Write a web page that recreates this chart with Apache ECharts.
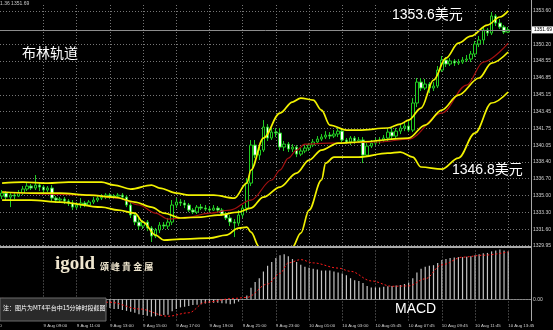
<!DOCTYPE html>
<html><head><meta charset="utf-8">
<script src="https://cdn.jsdelivr.net/npm/echarts/dist/echarts.min.js"></script>
<style>html,body{margin:0;padding:0;background:#000;overflow:hidden}#c{width:553px;height:330px}</style>
</head><body><div id="c"></div>
<script>
// ---- data ----
// candles: [open, close, low, high], 15-minute bars
const candles = [
[1334.94,1335.24,1334.64,1335.55],[1335.24,1334.84,1334.54,1335.45],[1334.84,1335.04,1333.83,1335.24],[1335.04,1334.94,1334.64,1335.35],
[1334.94,1335.24,1334.84,1335.55],[1335.24,1335.65,1335.04,1335.95],[1335.65,1335.95,1335.45,1336.25],[1335.95,1335.75,1335.55,1336.15],
[1335.75,1336.05,1335.55,1337.06],[1336.05,1335.85,1335.45,1336.25],[1335.85,1335.55,1335.24,1336.05],[1335.55,1335.75,1335.35,1335.95],
[1335.75,1334.74,1334.34,1336.05],[1334.74,1334.54,1334.24,1334.94],[1334.54,1334.64,1334.34,1334.84],[1334.64,1334.44,1334.14,1334.84],
[1334.44,1334.24,1333.94,1334.64],[1334.24,1333.83,1333.53,1334.54],[1333.83,1334.04,1333.63,1334.34],[1334.04,1334.24,1333.73,1334.74],
[1334.24,1334.04,1333.83,1334.44],[1334.04,1334.34,1333.94,1334.54],[1334.34,1334.54,1334.14,1334.84],[1334.54,1334.74,1334.34,1335.04],
[1334.74,1334.84,1334.54,1335.14],[1334.84,1335.04,1334.64,1335.24],[1335.04,1334.84,1334.64,1335.24],[1334.84,1334.94,1334.64,1335.14],
[1334.94,1335.04,1334.74,1335.24],[1335.04,1334.84,1334.54,1335.24],[1334.84,1334.04,1333.83,1335.04],[1334.04,1333.03,1332.73,1334.24],
[1333.03,1332.32,1332.02,1333.23],[1332.32,1331.92,1331.52,1332.73],[1331.92,1332.32,1331.62,1332.53],[1332.32,1331.72,1331.41,1332.53],
[1331.72,1330.91,1330.31,1331.92],[1330.91,1331.52,1330.71,1331.72],[1331.52,1332.02,1331.21,1332.32],[1332.02,1331.92,1331.62,1332.32],
[1331.92,1332.32,1331.62,1332.73],[1332.32,1334.04,1332.02,1334.54],[1334.04,1334.34,1333.73,1334.74],[1334.34,1334.24,1333.94,1334.64],
[1334.24,1334.04,1333.73,1334.54],[1334.04,1333.53,1333.33,1334.24],[1333.53,1333.33,1333.13,1333.73],[1333.33,1333.83,1333.13,1334.04],
[1333.83,1333.73,1333.53,1334.14],[1333.73,1333.63,1333.43,1334.04],[1333.63,1333.53,1333.33,1333.94],[1333.53,1333.73,1333.43,1334.04],
[1333.73,1333.53,1333.23,1333.94],[1333.53,1333.13,1332.93,1333.73],[1333.13,1332.73,1332.53,1333.33],[1332.73,1332.32,1331.92,1333.03],
[1332.32,1332.22,1330.81,1332.62],[1332.22,1333.03,1331.92,1333.53],[1333.03,1333.73,1332.73,1334.04],[1333.73,1336.25,1333.33,1336.76],
[1336.25,1340.08,1335.95,1340.59],[1340.08,1339.07,1338.77,1340.59],[1339.07,1339.58,1338.57,1340.08],[1339.58,1341.90,1339.38,1342.60],
[1341.90,1340.79,1340.49,1342.20],[1340.79,1341.39,1340.59,1341.80],[1341.39,1341.29,1340.89,1341.80],[1341.29,1339.88,1339.58,1341.80],
[1339.88,1340.18,1339.48,1340.49],[1340.18,1339.68,1339.38,1340.39],[1339.68,1339.88,1339.38,1340.18],[1339.88,1339.17,1338.87,1340.08],
[1339.17,1339.48,1338.97,1339.78],[1339.48,1339.78,1339.27,1340.08],[1339.78,1340.08,1339.48,1340.28],[1340.08,1340.39,1339.88,1340.69],
[1340.39,1340.69,1340.18,1340.99],[1340.69,1340.89,1340.49,1341.19],[1340.89,1341.09,1340.69,1341.49],[1341.09,1340.99,1340.69,1341.39],
[1340.99,1341.19,1340.79,1341.59],[1341.19,1341.49,1340.89,1341.80],[1341.49,1340.59,1340.39,1341.80],[1340.59,1340.39,1340.18,1340.79],
[1340.39,1340.79,1340.08,1340.99],[1340.79,1340.49,1340.18,1340.99],[1340.49,1340.59,1340.28,1340.89],[1340.59,1339.07,1338.27,1340.89],
[1339.07,1339.98,1338.87,1340.28],[1339.98,1340.28,1339.78,1340.59],[1340.28,1340.49,1340.08,1340.79],[1340.49,1340.59,1340.18,1340.89],
[1340.59,1340.79,1340.39,1341.09],[1340.79,1341.39,1340.49,1341.70],[1341.39,1340.99,1340.69,1341.90],[1340.99,1341.49,1340.79,1341.80],
[1341.49,1341.80,1341.19,1342.20],[1341.80,1342.00,1341.49,1342.40],[1342.00,1341.59,1341.39,1342.50],[1341.59,1344.32,1341.39,1344.82],
[1344.32,1346.43,1343.91,1346.84],[1346.43,1345.83,1345.53,1346.84],[1345.83,1346.23,1345.63,1346.74],[1346.23,1345.83,1345.32,1346.43],
[1345.83,1346.03,1345.53,1346.43],[1346.03,1347.64,1345.83,1348.05],[1347.64,1348.65,1347.44,1349.06],[1348.65,1348.25,1347.95,1348.96],
[1348.25,1348.55,1348.05,1348.85],[1348.55,1348.35,1348.05,1348.75],[1348.35,1348.45,1348.15,1348.75],[1348.45,1348.65,1348.25,1348.96],
[1348.65,1348.75,1348.45,1349.16],[1348.75,1349.26,1348.45,1349.56],[1349.26,1350.26,1348.96,1350.57],[1350.26,1350.67,1349.96,1351.07],
[1350.67,1351.68,1350.26,1352.08],[1351.68,1351.37,1351.07,1351.88],[1351.37,1353.09,1351.17,1353.49],[1353.09,1352.38,1352.08,1353.29],
[1352.38,1351.98,1351.78,1352.78],[1351.98,1351.47,1351.27,1352.18],[1351.47,1351.69,1351.37,1351.98]
];
// Bollinger bands (yellow) and red moving average: [bar index, price]
const bandUpper = [[0,1336.25],[5,1336.35],[11,1336.25],[16,1336.35],[24,1336.35],[27,1336.05],[31,1335.65],[36,1336.05],[38,1335.75],[42,1335.24],[45,1335.04],[51,1335.04],[56,1334.74],[59,1336.25],[60,1337.56],[63,1340.79],[67,1343.31],[70,1344.42],[72,1344.82],[75,1344.62],[77,1343.61],[79,1342.10],[83,1341.59],[86,1341.59],[93,1341.80],[96,1342.20],[98,1342.60],[101,1343.81],[104,1346.63],[107,1348.85],[110,1350.36],[113,1351.07],[117,1352.18],[120,1352.99],[122,1353.60]];
const bandMiddle = [[0,1335.35],[7,1335.24],[14,1335.24],[21,1335.04],[27,1334.84],[32,1334.34],[36,1333.83],[39,1333.23],[43,1332.73],[48,1332.83],[52,1333.03],[57,1333.33],[60,1333.73],[63,1334.84],[67,1335.85],[71,1337.26],[74,1338.57],[77,1339.58],[81,1340.28],[86,1340.39],[98,1340.79],[102,1342.10],[106,1343.61],[110,1345.12],[115,1346.84],[118,1348.35],[122,1349.46]];
const bandLower = [[0,1334.54],[7,1334.54],[14,1334.34],[24,1333.83],[28,1333.53],[32,1333.23],[34,1332.32],[37,1331.01],[39,1330.51],[43,1330.61],[50,1330.71],[54,1331.01],[57,1331.72],[59,1331.82],[60,1331.31],[62,1329.80],[66,1327.30],[70,1329.80],[72,1331.21],[74,1333.53],[77,1336.56],[78,1338.27],[80,1338.87],[86,1338.87],[93,1339.27],[96,1339.38],[99,1338.87],[101,1337.87],[106,1337.66],[110,1338.77],[114,1341.29],[118,1344.32],[122,1345.43]];
const maRed = [[0,1335.35],[11,1335.14],[21,1335.04],[28,1334.74],[33,1334.04],[37,1333.23],[40,1332.62],[45,1332.83],[50,1333.23],[55,1333.53],[60,1334.54],[65,1336.56],[67,1337.56],[69,1338.77],[71,1339.58],[73,1340.18],[79,1340.28],[91,1340.39],[98,1340.69],[106,1343.31],[112,1346.13],[116,1348.45],[122,1350.36]];
// MACD histogram per bar, signal line [bar index, value]
const macdHist = [
-0.1,-0.12,-0.15,-0.15,-0.12,-0.1,-0.08,-0.05,-0.05,-0.08,-0.1,
-0.12,-0.2,-0.25,-0.28,-0.3,-0.3,-0.35,-0.35,-0.32,-0.3,-0.3,-0.28,-0.3,-0.35,-0.4,
-0.45,-0.5,-0.5,-0.55,-0.6,-0.65,
-0.7,-0.78,-0.82,-0.85,-0.9,-0.88,-0.85,-0.82,-0.8,
-0.62,-0.5,-0.42,-0.38,-0.35,
-0.3,-0.28,-0.25,-0.22,-0.2,-0.18,-0.18,-0.2,-0.22,-0.25,-0.22,-0.12,
-0.02,0.2,0.6,0.9,1.1,1.45,1.75,1.95,2.15,2.3,2.35,2.25,2.1,1.95,1.8,1.7,1.65,1.6,1.55,1.5,1.5,1.5,1.45,1.4,1.35,1.25,1.1,1.0,0.95,0.85,0.7,0.62,0.62,0.62,0.65,0.68,0.7,0.72,0.75,0.8,0.88,1.1,1.4,1.6,1.7,1.75,1.78,1.9,2.05,2.1,2.15,2.18,2.2,2.2,2.22,2.25,2.3,2.35,2.4,2.42,2.5,2.55,2.598,2.55,2.5
];
const macdSignal = [[0,0.05],[14,-0.05],[26,-0.15],[33,-0.5],[40,-0.88],[45,-0.7],[49,-0.15],[56,0.05],[59,0.1],[64,0.8],[67,1.35],[69,1.9],[72,2.07],[75,1.9],[81,1.63],[84,1.46],[89,0.96],[94,0.68],[98,0.7],[102,1.07],[106,1.8],[111,2.2],[116,2.3],[122,2.47]];
// axis ticks
const priceTicks = [1353.60,1350.20,1348.55,1346.85,1345.15,1343.45,1341.75,1340.05,1338.40,1336.70,1335.00,1333.30,1331.60,1329.95];
const currentPrice = 1351.69;
const macdTicks = [2.598, 0.00, -1.103];
const timeTickIdx = [10,18,26,34,42,50,58,66,74,82,90,98,106,114,122];
const timeTickLabels = ['9 Aug 09:00','9 Aug 11:00','9 Aug 13:00','9 Aug 15:00','9 Aug 17:00','9 Aug 19:00','9 Aug 21:00','9 Aug 23:00','10 Aug 01:00','10 Aug 03:00','10 Aug 05:45','10 Aug 07:45','10 Aug 09:45','10 Aug 11:45','10 Aug 13:45'];
const firstTimeLabel = '9 Aug 04:30';
const slotCount = 128;

// ---- chart ----
const chart = echarts.init(document.getElementById('c'), null, {renderer:'canvas'});
const cats = Array.from({length: slotCount}, (_, i) => String(i));
const tickMap = {};
timeTickIdx.forEach((k, j) => { tickMap[k] = timeTickLabels[j]; });
const dotted = {color:'#767676', width:1, type:[1,2]};
const axisTxt = {color:'#d0d0d0', fontSize:5, fontFamily:'Liberation Sans'};

const vLines = timeTickIdx.map(k => ({xAxis: String(k), lineStyle: dotted, label:{show:false}}));
const priceLines = priceTicks.map(v => ({yAxis: v, lineStyle: dotted,
  label:{show:true, position:'end', distance:2, formatter: v.toFixed(2), ...axisTxt}}));
const macdLines = [
  {yAxis: macdTicks[0], lineStyle:{opacity:0}, label:{show:true, position:'end', distance:2, formatter: macdTicks[0].toFixed(3), offset:[0,3], ...axisTxt}},
  {yAxis: macdTicks[1], lineStyle: dotted, label:{show:true, position:'end', distance:2, formatter: macdTicks[1].toFixed(2), ...axisTxt}},
  {yAxis: macdTicks[2], lineStyle:{opacity:0}, label:{show:true, position:'end', distance:2, formatter: macdTicks[2].toFixed(3), offset:[0,-3], ...axisTxt}}
];
const smoothLine = (data, color, width, z) => ({
  type:'line', data, xAxisIndex:0, yAxisIndex:0, smooth:0.35, smoothMonotone:'x',
  showSymbol:false, symbol:'none', z, lineStyle:{color, width}, silent:true, animation:false
});

const option = {
  backgroundColor:'#000',
  animation:false,
  grid:[
    {left:0, top:3, width:531, height:243},
    {left:0, top:249.5, width:531, height:71}
  ],
  xAxis:[
    {type:'category', gridIndex:0, data:cats, boundaryGap:true,
     axisLine:{show:false}, axisTick:{show:false}, axisLabel:{show:false}, splitLine:{show:false}},
    {type:'category', gridIndex:1, data:cats, boundaryGap:true,
     axisLine:{show:true, lineStyle:{color:'#8a8a8a'}},
     axisTick:{show:false},
     axisLabel:{show:true, interval:(i)=>tickMap[i]!==undefined, formatter:(v,i)=>tickMap[i]||'',
       align:'left', margin:3, color:'#d0d0d0', fontSize:4.4, fontFamily:'Liberation Sans'},
     splitLine:{show:false}}
  ],
  yAxis:[
    {type:'value', gridIndex:0, min:1329.91, max:1354.40, show:false},
    {type:'value', gridIndex:1, min:-1.103, max:2.598, show:false}
  ],
  series:[
    {type:'candlestick', name:'price', xAxisIndex:0, yAxisIndex:0, data:candles, barWidth:3, z:2,
     itemStyle:{color:'#000', color0:'#fff', borderColor:'#22cc22', borderColor0:'#22cc22', borderWidth:1},
     markLine:{silent:true, symbol:['none','none'], z:1, animation:false, data:[...vLines, ...priceLines]}},
    smoothLine(maRed, '#a31010', 1.2, 3),
    smoothLine(bandMiddle, '#f2f200', 1.7, 4),
    smoothLine(bandLower, '#f2f200', 1.7, 4),
    Object.assign(smoothLine(bandUpper, '#f2f200', 1.7, 4), {
      markLine:{silent:true, symbol:['none','none'], animation:false, z:6,
        data:[{yAxis: currentPrice, lineStyle:{color:'#8c8c8c', width:1, type:'solid'},
          label:{show:true, position:'end', distance:1, formatter: currentPrice.toFixed(2),
            backgroundColor:'#fff', color:'#000', fontSize:5, fontFamily:'Liberation Sans', padding:[1,2]}}]}
    }),
    {type:'bar', name:'MACD', xAxisIndex:1, yAxisIndex:1, data:macdHist, barWidth:1.2, z:2,
     itemStyle:{color:'#c4c4c4'},
     markLine:{silent:true, symbol:['none','none'], z:1, animation:false, data:[...vLines, ...macdLines]}},
    {type:'line', name:'Signal', xAxisIndex:1, yAxisIndex:1, data:macdSignal, smooth:0.35, smoothMonotone:'x',
     showSymbol:false, symbol:'none', z:4, lineStyle:{color:'#ff1a1a', width:1, type:[2,2]}}
  ],
  graphic:[
    {type:'rect', silent:true, z:10, shape:{x:0, y:246, width:531, height:2}, style:{fill:'#a8a8a8'}},
    {type:'rect', silent:true, z:10, shape:{x:531, y:0, width:1, height:321}, style:{fill:'#a8a8a8'}},
    {type:'text', silent:true, z:10, left:0, top:1, style:{text:'1.36 1351.69', fill:'#c8c8c8', font:'5px "Liberation Sans"'}},
    {type:'text', silent:true, z:10, left:22, top:46, style:{text:'布林轨道', fill:'#ffffff', font:'14px "Noto Sans CJK SC"'}},
    {type:'text', silent:true, z:10, left:392, top:8, style:{text:'1353.6美元', fill:'#ffffff', font:'14px "Liberation Sans","Noto Sans CJK SC"'}},
    {type:'text', silent:true, z:10, left:452, top:163, style:{text:'1346.8美元', fill:'#ffffff', font:'14px "Liberation Sans","Noto Sans CJK SC"'}},
    {type:'text', silent:true, z:10, left:395, top:302, style:{text:'MACD', fill:'#ffffff', font:'14px "Liberation Sans"'}},
    {type:'text', silent:true, z:10, left:55, top:255, style:{text:'igold', fill:'#efe6cf', font:'bold 19px "Liberation Serif"'}},
    {type:'text', silent:true, z:10, left:100, top:262, style:{text:'頌 峰 貴 金 屬', fill:'#efe6cf', font:'bold 9px "Noto Sans CJK TC"'}},
    {type:'rect', silent:true, z:10, shape:{x:0, y:298, width:106, height:23}, style:{fill:'#2a2a2a', stroke:'#6a6a6a', lineWidth:1}},
    {type:'text', silent:true, z:11, left:3, top:305, style:{text:'注：图片为MT4平台中15分钟时段截图', fill:'#ffffff', font:'6px "Noto Sans CJK SC"'}},
    {type:'text', silent:true, z:10, left:-22, top:323.5, style:{text:firstTimeLabel, fill:'#d0d0d0', font:'4.4px "Liberation Sans"'}}
  ]
};
chart.setOption(option);
</script>
</body></html>
